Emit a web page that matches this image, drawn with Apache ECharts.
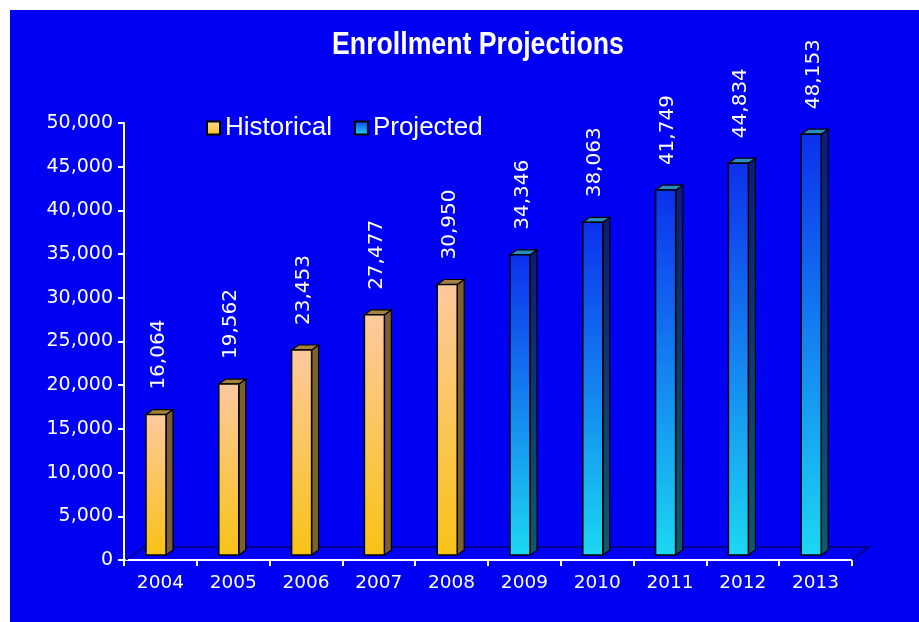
<!DOCTYPE html>
<html><head><meta charset="utf-8">
<script src="https://cdn.jsdelivr.net/npm/echarts@6/dist/echarts.min.js"></script>
<style>html,body{margin:0;padding:0;background:#fff}#c{width:919px;height:622px}</style>
</head><body><div id="c"></div><script>
const years = ['2004','2005','2006','2007','2008','2009','2010','2011','2012','2013'];
const historical = [16064, 19562, 23453, 27477, 30950, null, null, null, null, null];
const projected = [null, null, null, null, null, 34346, 38063, 41749, 44834, 48153];
const titleText = 'Enrollment Projections';

const G = echarts.graphic;
const styles = {
  Historical: {
    front: new G.LinearGradient(0,0,0,1,[{offset:0,color:'#fdc99e'},{offset:1,color:'#f8c216'}]),
    side: '#7d6030', top: '#a5813f'
  },
  Projected: {
    front: new G.LinearGradient(0,0,0,1,[{offset:0,color:'#0c30ee'},{offset:1,color:'#1cd8f2'}]),
    side: new G.LinearGradient(0,0,0,1,[{offset:0,color:'#0a1c78'},{offset:1,color:'#0e5a6a'}]),
    top: '#2a8cc0'
  }
};

function fmt(v){ return v.toString().replace(/\B(?=(\d{3})+(?!\d))/g, ','); }

function makeRender(name){
  const st = styles[name];
  return function(params, api){
    const v = api.value(1);
    if (v == null || isNaN(v)) return;
    const t = api.coord([api.value(0), v]);
    const b = api.coord([api.value(0), 0]);
    const c = t[0];
    const lift = 5, dx = 7, dy = 5, bw = 20;
    const x0 = c - 14.4, x1 = x0 + bw;
    const yt = t[1] - lift, yb = b[1] - lift;
    return {
      type: 'group',
      children: [
        {type:'polygon', shape:{points:[[x1,yt],[x1+dx,yt-dy],[x1+dx,yb-dy],[x1,yb]]},
          style:{fill:st.side, stroke:'#000', lineWidth:1.2}},
        {type:'polygon', shape:{points:[[x0,yt],[x0+dx,yt-dy],[x1+dx,yt-dy],[x1,yt]]},
          style:{fill:st.top, stroke:'#000', lineWidth:1.2}},
        {type:'rect', shape:{x:x0, y:yt, width:bw, height:yb-yt},
          style:{fill:st.front, stroke:'#000', lineWidth:1.5}},
        {type:'text', x: c - 2, y: yt - 25, rotation: Math.PI/2,
          style:{text: fmt(v), x:0, y:0, align:'left', verticalAlign:'middle',
            fill:'#fff', font:'20px "DejaVu Sans"'}}
      ]
    };
  };
}

const chart = echarts.init(document.getElementById('c'), null, {renderer:'canvas'});
const legendIcon = function(name){
  return {name:name, itemStyle:{color: name==='Historical' ? new G.LinearGradient(0,0,0,1,[{offset:0,color:'#fdd6a0'},{offset:1,color:'#f8c020'}]) : new G.LinearGradient(0,0,0,1,[{offset:0,color:'#1040f0'},{offset:1,color:'#20d8f4'}]), borderColor:'#000', borderWidth:2}};
};
chart.setOption({
  animation: false,
  backgroundColor: '#fff',
  legend: {left: 201, top: 110, itemWidth: 13, itemHeight: 13, itemGap: 22,
    icon: 'rect',
    textStyle:{color:'#fff', fontFamily:'"Liberation Sans"', fontSize:26, padding:[0,0,0,0]},
    data:[legendIcon('Historical'), legendIcon('Projected')]},
  grid: {left:124, right:67, top:123, bottom:62, containLabel:false},
  xAxis: {type:'category', data: years, boundaryGap:true,
    axisLine:{lineStyle:{color:'#fff', width:2}},
    axisTick:{show:true, length:6, lineStyle:{color:'#fff', width:2}},
    axisLabel:{color:'#fff', fontFamily:'"DejaVu Sans"', fontSize:18.5, margin:14}},
  yAxis: {type:'value', min:0, max:50000, interval:5000,
    axisLine:{show:true, lineStyle:{color:'#fff', width:2}},
    axisTick:{show:true, length:6, lineStyle:{color:'#fff', width:2}},
    splitLine:{show:false},
    axisLabel:{color:'#fff', fontFamily:'"DejaVu Sans"', fontSize:19, margin:11,
      formatter: function(v){ return fmt(v); }}},
  series: [
    {name:'Historical', type:'custom', renderItem: makeRender('Historical'),
      data: historical.map((v,i)=>[i, v]), z:5},
    {name:'Projected', type:'custom', renderItem: makeRender('Projected'),
      data: projected.map((v,i)=>[i, v]), z:5}
  ]
});

// 3D floor drawn from axis pixel positions
const p0 = chart.convertToPixel({gridIndex:0}, [0, 0]);
const catW = chart.convertToPixel({xAxisIndex:0}, 1) - chart.convertToPixel({xAxisIndex:0}, 0);
const leftX = p0[0] - catW/2, rightX = leftX + catW*years.length, yA = p0[1];
chart.setOption({graphic: [
  {type:'rect', z:-10, shape:{x:10,y:10,width:909,height:612}, style:{fill:'#0000f4'}},
  {type:'text', z:10, x: 478, y: 45, scaleX: 0.86,
    style:{text: titleText, align:'center', verticalAlign:'middle', fill:'#fff',
      font:'bold 31px "Liberation Sans"'}},
  {type:'polyline', z:1, shape:{points:[[leftX+2,yA],[leftX+20,yA-13],[rightX+17,yA-13],[rightX,yA]]},
    style:{stroke:'#00006a', lineWidth:1.5, fill:null}}
]});
</script></body></html>
